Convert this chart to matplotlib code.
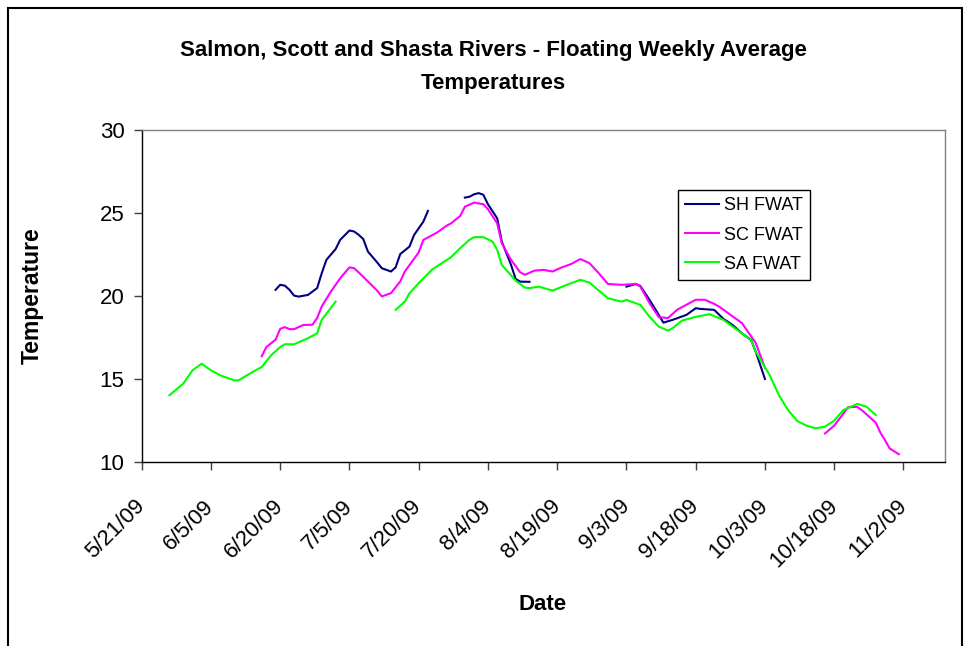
import matplotlib
matplotlib.use("Agg")
import matplotlib.pyplot as plt
import matplotlib.transforms as mtransforms
from matplotlib.patches import Rectangle
import numpy as np
import pandas as pd

plt.rcParams['font.family'] = ['Liberation Sans', 'DejaVu Sans']

title_line1 = "Salmon, Scott and Shasta Rivers - Floating Weekly Average"
title_line2 = "Temperatures"
x_label = "Date"
y_label = "Temperature"

series_names = ["SH FWAT", "SC FWAT", "SA FWAT"]
series_colors = ["#000080", "#FF00FF", "#00FF00"]

nan = np.nan

sh_dates = ["2009-06-19", "2009-06-20", "2009-06-21", "2009-06-22", "2009-06-23", "2009-06-24",
            "2009-06-26", "2009-06-28", "2009-06-29", "2009-06-30", "2009-07-02", "2009-07-03",
            "2009-07-05", "2009-07-06", "2009-07-07", "2009-07-08", "2009-07-09", "2009-07-11",
            "2009-07-12", "2009-07-14", "2009-07-15", "2009-07-16", "2009-07-18", "2009-07-19",
            "2009-07-21", "2009-07-22",
            "2009-07-26",
            "2009-07-30", "2009-07-31", "2009-08-01", "2009-08-02", "2009-08-03", "2009-08-04",
            "2009-08-06", "2009-08-07", "2009-08-09", "2009-08-10", "2009-08-11", "2009-08-13",
            "2009-08-25",
            "2009-09-03", "2009-09-05", "2009-09-06", "2009-09-08", "2009-09-10", "2009-09-11",
            "2009-09-13", "2009-09-16", "2009-09-18", "2009-09-19", "2009-09-22", "2009-09-24",
            "2009-09-26", "2009-09-28", "2009-09-30", "2009-10-01", "2009-10-03"]
sh_temps = [20.35, 20.65, 20.6, 20.35, 20.0, 19.94,
            20.04, 20.45, 21.35, 22.15, 22.8, 23.36,
            23.92, 23.86, 23.66, 23.4, 22.65, 22.0,
            21.65, 21.45, 21.7, 22.5, 22.95, 23.65,
            24.45, 25.1,
            nan,
            25.9, 25.95, 26.1, 26.17, 26.07, 25.5,
            24.65, 23.25, 21.85, 21.0, 20.84, 20.83,
            nan,
            20.54, 20.7, 20.58, 19.74, 18.84, 18.37,
            18.54, 18.84, 19.24, 19.2, 19.14, 18.6,
            18.23, 17.73, 17.33, 16.63, 14.98]

sc_dates = ["2009-06-16", "2009-06-17", "2009-06-19", "2009-06-20", "2009-06-21", "2009-06-22",
            "2009-06-23", "2009-06-25", "2009-06-27", "2009-06-28", "2009-06-29", "2009-07-01",
            "2009-07-03", "2009-07-05", "2009-07-06", "2009-07-07", "2009-07-09", "2009-07-11",
            "2009-07-12", "2009-07-14", "2009-07-16", "2009-07-17", "2009-07-20", "2009-07-21",
            "2009-07-24", "2009-07-26", "2009-07-27", "2009-07-29", "2009-07-30", "2009-08-01",
            "2009-08-03", "2009-08-04", "2009-08-06", "2009-08-07", "2009-08-09", "2009-08-11",
            "2009-08-12", "2009-08-14", "2009-08-16", "2009-08-18", "2009-08-20", "2009-08-22",
            "2009-08-24", "2009-08-26", "2009-08-28", "2009-08-30", "2009-09-02", "2009-09-05",
            "2009-09-06", "2009-09-08", "2009-09-10", "2009-09-12", "2009-09-14", "2009-09-16",
            "2009-09-18", "2009-09-20", "2009-09-22", "2009-09-23", "2009-09-25", "2009-09-26",
            "2009-09-28", "2009-09-29", "2009-10-01", "2009-10-03",
            "2009-10-10",
            "2009-10-16", "2009-10-18", "2009-10-20", "2009-10-21", "2009-10-23", "2009-10-24",
            "2009-10-27", "2009-10-28", "2009-10-29", "2009-10-30", "2009-11-01"]
sc_temps = [16.35, 16.9, 17.35, 18.0, 18.1, 17.98,
            17.98, 18.23, 18.25, 18.65, 19.35, 20.25,
            21.05, 21.7, 21.65, 21.4, 20.85, 20.3,
            19.95, 20.15, 20.85, 21.45, 22.6, 23.35,
            23.8, 24.2, 24.35, 24.8, 25.35, 25.6,
            25.5, 25.2, 24.35, 23.15, 22.15, 21.4,
            21.25, 21.5, 21.55, 21.45, 21.7, 21.9,
            22.2, 21.95, 21.35, 20.7, 20.65, 20.7,
            20.55, 19.55, 18.7, 18.65, 19.15, 19.45,
            19.75, 19.75, 19.5, 19.35, 18.95, 18.75,
            18.35, 17.95, 17.15, 15.65,
            nan,
            11.7, 12.17, 12.9, 13.28, 13.3, 13.1,
            12.35, 11.75, 11.3, 10.8, 10.45]

sa_dates = ["2009-05-27", "2009-05-30", "2009-06-01", "2009-06-03", "2009-06-05", "2009-06-07",
            "2009-06-10", "2009-06-11", "2009-06-14", "2009-06-16", "2009-06-18", "2009-06-20",
            "2009-06-21", "2009-06-23", "2009-06-26", "2009-06-28", "2009-06-29", "2009-07-02",
            "2009-07-08",
            "2009-07-15", "2009-07-17", "2009-07-18", "2009-07-20", "2009-07-22", "2009-07-23",
            "2009-07-25", "2009-07-27", "2009-07-29", "2009-07-31", "2009-08-01", "2009-08-03",
            "2009-08-05", "2009-08-06", "2009-08-07", "2009-08-10", "2009-08-12", "2009-08-13",
            "2009-08-15", "2009-08-18", "2009-08-21", "2009-08-24", "2009-08-26", "2009-08-30",
            "2009-09-01", "2009-09-02", "2009-09-03", "2009-09-04", "2009-09-06", "2009-09-08",
            "2009-09-10", "2009-09-12", "2009-09-13", "2009-09-15", "2009-09-18", "2009-09-21",
            "2009-09-24", "2009-09-26", "2009-09-28", "2009-09-30", "2009-10-01", "2009-10-04",
            "2009-10-06", "2009-10-08", "2009-10-10", "2009-10-12", "2009-10-14", "2009-10-16",
            "2009-10-18", "2009-10-20", "2009-10-23", "2009-10-25", "2009-10-27"]
sa_temps = [14.0, 14.7, 15.5, 15.9, 15.5, 15.2,
            14.9, 14.9, 15.4, 15.7, 16.4, 16.9,
            17.07, 17.07, 17.43, 17.73, 18.54, 19.64,
            nan,
            19.14, 19.64, 20.14, 20.75, 21.31, 21.59,
            21.95, 22.31, 22.86, 23.36, 23.52, 23.52,
            23.25, 22.75, 21.85, 20.9, 20.48, 20.45,
            20.54, 20.3, 20.64, 20.95, 20.78, 19.84,
            19.7, 19.64, 19.74, 19.64, 19.44, 18.73,
            18.13, 17.89, 18.04, 18.49, 18.72, 18.88,
            18.54, 18.13, 17.73, 17.33, 16.63, 15.22,
            14.02, 13.11, 12.45, 12.17, 12.01, 12.11,
            12.47, 13.11, 13.48, 13.31, 12.81]

tick_dates = ["2009-05-21", "2009-06-05", "2009-06-20", "2009-07-05", "2009-07-20", "2009-08-04",
              "2009-08-19", "2009-09-03", "2009-09-18", "2009-10-03", "2009-10-18", "2009-11-02"]
tick_labels = ["5/21/09", "6/5/09", "6/20/09", "7/5/09", "7/20/09", "8/4/09",
               "8/19/09", "9/3/09", "9/18/09", "10/3/09", "10/18/09", "11/2/09"]
x_start = "2009-05-21"
x_end = "2009-11-11"
y_ticks = [10, 15, 20, 25, 30]

W, H = 967, 646
fig = plt.figure(figsize=(W / 100, H / 100), dpi=100)
fig.patch.set_facecolor("white")

ax_left, ax_right, ax_top, ax_bottom = 141.7, 945.0, 129.5, 461.7
ax = fig.add_axes([ax_left / W, 1 - ax_bottom / H, (ax_right - ax_left) / W, (ax_bottom - ax_top) / H])

all_series = [(sh_dates, sh_temps), (sc_dates, sc_temps), (sa_dates, sa_temps)]
for (d, t), name, col in zip(all_series, series_names, series_colors):
    ax.plot(pd.to_datetime(d), t, color=col, lw=1.5, label=name, solid_joinstyle="round")

ax.set_xlim(pd.Timestamp(x_start), pd.Timestamp(x_end))
ax.set_ylim(y_ticks[0], y_ticks[-1])
ax.set_yticks(y_ticks)
ax.set_xticks(pd.to_datetime(tick_dates))
ax.set_xticklabels(tick_labels)

for s in ["left", "bottom"]:
    ax.spines[s].set_color("black")
    ax.spines[s].set_linewidth(1.0)
for s in ["top", "right"]:
    ax.spines[s].set_color("#808080")
    ax.spines[s].set_linewidth(1.0)

ax.tick_params(axis="y", direction="out", length=5.8, width=1, color="#404040",
               labelsize=16, pad=6.5)
ax.tick_params(axis="x", direction="out", length=5.8, width=1, color="#404040",
               labelsize=16, pad=24)
for lbl in ax.get_xticklabels():
    lbl.set_rotation(45)
    lbl.set_ha("right")
    lbl.set_va("center")
    lbl.set_rotation_mode("anchor")

leg = ax.legend(loc="upper left", bbox_to_anchor=(678 / W, 1 - 190 / H),
                bbox_transform=fig.transFigure, borderaxespad=0, fontsize=13,
                handlelength=1.88, handletextpad=0.25, labelspacing=0.68,
                borderpad=0.4, fancybox=False, shadow=False, framealpha=1)
leg.get_frame().set_edgecolor("black")
leg.get_frame().set_linewidth(1.0)

fig.text(493 / W, 1 - 56 / H, title_line1, ha="center", va="baseline",
         fontsize=16, fontweight="bold")
fig.text(493 / W, 1 - 89 / H, title_line2, ha="center", va="baseline",
         fontsize=16, fontweight="bold")
fig.text(32 / W, 1 - 296 / H, y_label, ha="center", va="center", rotation=90,
         fontsize=16.5, fontweight="bold")
fig.text(543 / W, 1 - 605 / H, x_label, ha="center", va="center",
         fontsize=16, fontweight="bold")

frame = Rectangle((7.5 / W, -0.2), (962 - 7.5) / W, 1.2 - 7.5 / H,
                  transform=fig.transFigure, fill=False, edgecolor="black",
                  linewidth=1.5, clip_on=False)
fig.patches.append(frame)

fig.savefig("out.png", dpi=100)
